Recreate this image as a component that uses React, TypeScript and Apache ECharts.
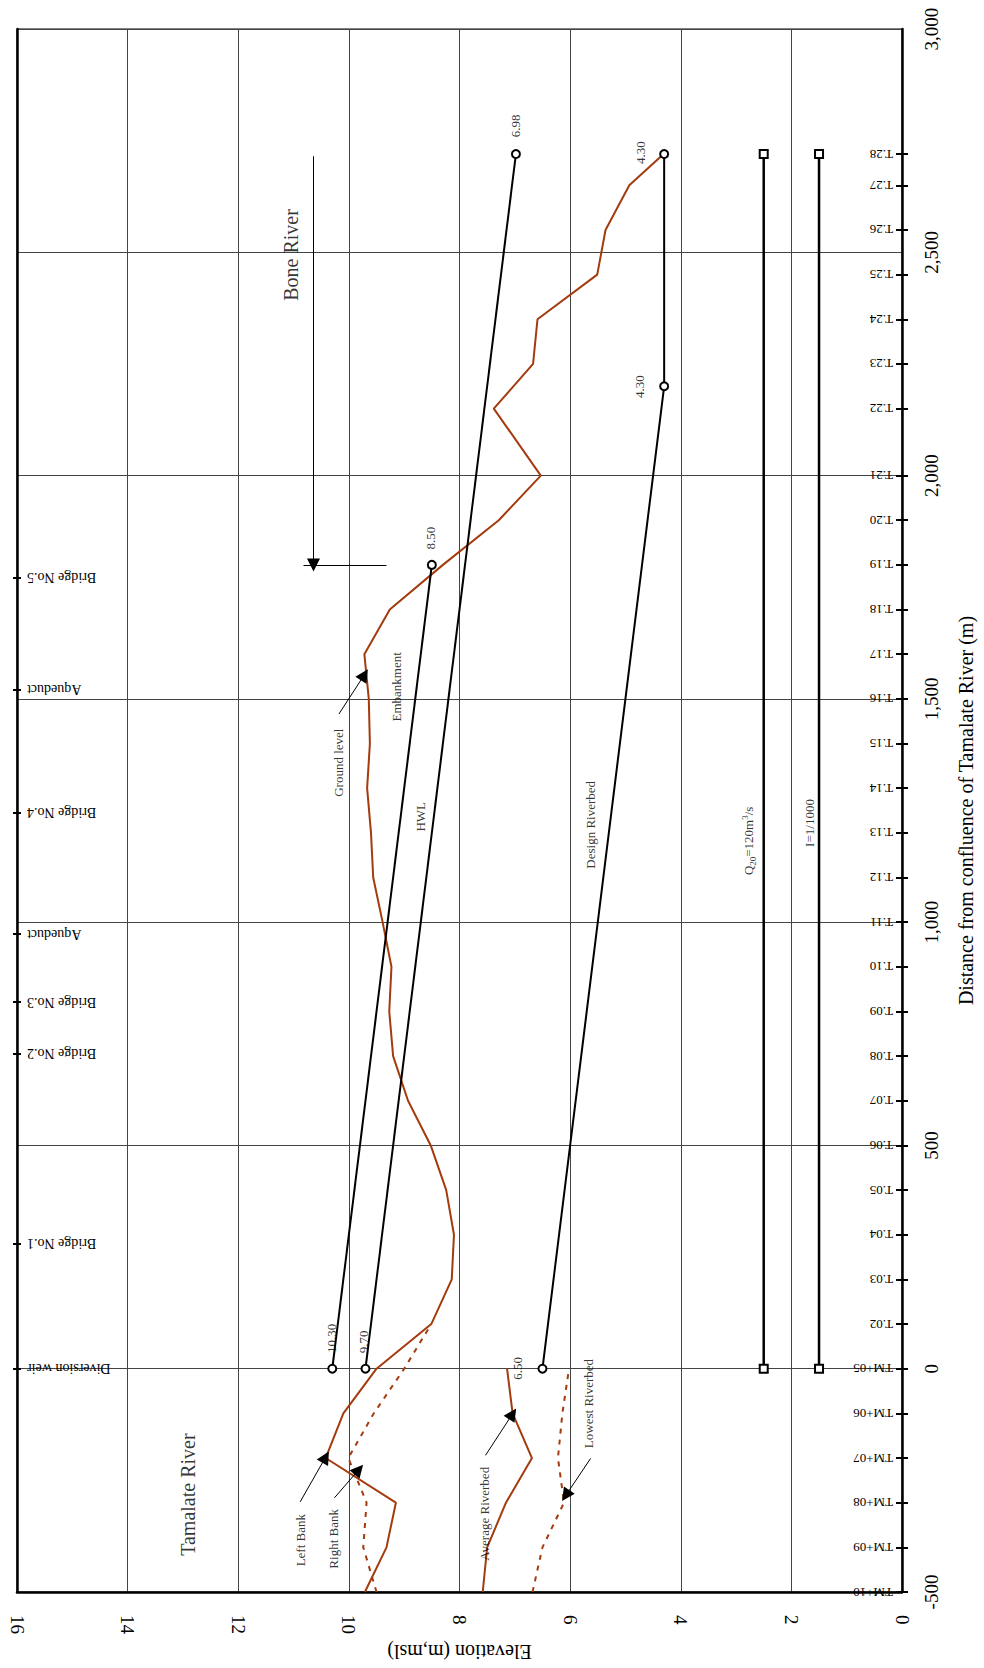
import React, { useEffect, useRef } from 'react';
import * as echarts from 'echarts';

const FONT = '"Liberation Serif", "Times New Roman", Times, serif';
const ORANGE = '#A33B0E';

// Survey stations along the river (distance from confluence, m)
const stationNames = [
  'TM+10', 'TM+09', 'TM+08', 'TM+07', 'TM+06', 'TM+05',
  'T.02', 'T.03', 'T.04', 'T.05', 'T.06', 'T.07', 'T.08', 'T.09', 'T.10', 'T.11',
  'T.12', 'T.13', 'T.14', 'T.15', 'T.16', 'T.17', 'T.18', 'T.19', 'T.20', 'T.21',
  'T.22', 'T.23', 'T.24', 'T.25', 'T.26', 'T.27', 'T.28',
];
const stationDist = [
  -500, -400, -300, -200, -100, 0,
  100, 200, 300, 400, 500, 600, 700, 800, 900, 1000,
  1100, 1200, 1300, 1400, 1500, 1600, 1700, 1800, 1900, 2000,
  2150, 2250, 2350, 2450, 2550, 2650, 2720,
];
// Left bank (Tamalate) continuing as ground level (Bone River)
const groundElev = [
  9.71, 9.32, 9.15, 10.42, 10.10, 9.50,
  8.51, 8.14, 8.10, 8.24, 8.52, 8.93, 9.20, 9.27, 9.23, 9.39,
  9.56, 9.60, 9.67, 9.62, 9.64, 9.72, 9.26, 8.30, 7.29, 6.53,
  7.38, 6.67, 6.59, 5.51, 5.36, 4.93, 4.31,
];

const rightBankDist = [-500, -400, -300, -200, -100, 0, 100];
const rightBankElev = [9.50, 9.74, 9.68, 10.01, 9.55, 9.00, 8.51];

const avgBedDist = [-500, -400, -300, -200, -100, 0];
const avgBedElev = [7.58, 7.50, 7.16, 6.69, 7.04, 7.14];

const lowBedDist = [-500, -400, -300, -200, -100, 0];
const lowBedElev = [6.68, 6.50, 6.11, 6.22, 6.14, 6.02];

const embankmentDist = [0, 1800];
const embankmentElev = [10.30, 8.50];
const hwlDist = [0, 2720];
const hwlElev = [9.70, 6.98];
const designDist = [0, 2200, 2720];
const designElev = [6.50, 4.30, 4.30];
const q20Dist = [0, 2720];
const q20Elev = [2.5, 2.5];
const slopeDist = [0, 2720];
const slopeElev = [1.5, 1.5];

// Structures on the left axis
const bridgeNames = ['Diversion weir', 'Bridge No.1', 'Bridge No.2', 'Bridge No.3', 'Aqueduct', 'Bridge No.4', 'Aqueduct', 'Bridge No.5'];
const bridgeDist = [0, 280, 705, 821, 973, 1245, 1521, 1771];

// Annotation texts
const noteTexts = [
  'Bone River', 'Tamalate River', 'Left Bank', 'Right Bank', 'Average Riverbed', 'Lowest Riverbed',
  'Ground level', 'Embankment', 'HWL', 'Design Riverbed', 'Q{sub|20}=120m{sup|3}/s', 'I=1/1000',
  '10.30', '9.70', '6.50', '8.50', '6.98', '4.30', '4.30',
];
const noteElev = [11.04, 12.90, 10.88, 10.28, 7.54, 5.66, 10.19, 9.14, 8.70, 5.63, 2.77, 1.68, 10.32, 9.74, 6.95, 8.52, 6.99, 4.73, 4.74];
const noteDist = [2494, -282, -384, -381, -325, -78, 1357, 1527, 1236, 1218, 1182, 1222, 68, 60, 1, 1860, 2783, 2723, 2199];
const noteSize = [20, 20, 13, 13, 13, 13, 13, 13, 13, 13, 13, 13, 13, 13, 13, 13, 13, 13, 13];

// Pointer arrows (tail -> head)
const arrowFromElev = [10.88, 10.26, 7.53, 5.63, 10.18, 10.64];
const arrowFromDist = [-298, -289, -194, -201, 1466, 2715];
const arrowToElev = [10.42, 9.82, 7.04, 6.08, 9.72, 10.64];
const arrowToDist = [-198, -226, -101, -284, 1554, 1800];

// Plain marker bar for Bone River
const barFromElev = [10.82];
const barToElev = [9.32];
const barDist = [1800];

const pairs = (xs: number[], ys: number[]) => xs.map((x, i) => [x, ys[i]]);

export default function App() {
  const ref = useRef<HTMLDivElement>(null);

  useEffect(() => {
    if (!ref.current) return;
    const chart = echarts.init(ref.current, null, { renderer: 'svg' });

    const distBase = { type: 'value', min: -500, max: 3000 } as any;
    const blackLine = (name: string, dist: number[], elev: number[], symbol: string) => ({
      name,
      type: 'line',
      data: pairs(elev, dist),
      symbol,
      symbolSize: 8,
      showSymbol: true,
      lineStyle: { color: '#000', width: 2 },
      itemStyle: { color: '#000', borderColor: '#000', borderWidth: 2 },
      z: 4,
      silent: true,
    });

    const option: any = {
      animation: false,
      backgroundColor: '#fff',
      textStyle: { fontFamily: FONT, color: '#000' },
      grid: { left: 17, right: 78, top: 29, bottom: 76, show: true, borderColor: '#000', borderWidth: 1, backgroundColor: 'transparent' },
      xAxis: {
        type: 'value', min: 0, max: 16, interval: 2, inverse: true, position: 'bottom',
        name: 'Elevation (m,msl)', nameLocation: 'middle', nameGap: 50, nameRotate: 180,
        nameTextStyle: { fontFamily: FONT, fontSize: 20, color: '#000' },
        axisLine: { show: true, onZero: false, lineStyle: { color: '#000', width: 2.5 } },
        axisTick: { show: false },
        axisLabel: { rotate: -90, margin: 23, fontFamily: FONT, fontSize: 19, color: '#000' },
        splitLine: { show: true, lineStyle: { color: '#444', width: 1 } },
      },
      yAxis: [
        {
          ...distBase, interval: 500, position: 'right',
          name: 'Distance from confluence of Tamalate River (m)', nameLocation: 'middle', nameGap: 54, nameRotate: 90,
          nameTextStyle: { fontFamily: FONT, fontSize: 20, color: '#000' },
          axisLine: { show: true, onZero: false, lineStyle: { color: '#000', width: 2.5 } },
          axisTick: { show: false },
          axisLabel: { rotate: 90, margin: 20, fontFamily: FONT, fontSize: 19, color: '#000', formatter: (v: number) => v.toLocaleString('en-US') },
          splitLine: { show: true, lineStyle: { color: '#444', width: 1 } },
        },
        {
          ...distBase, position: 'right',
          axisLine: { show: false, onZero: false },
          axisTick: { show: true, inside: true, length: 6, customValues: stationDist, lineStyle: { color: '#000', width: 2 } },
          axisLabel: {
            show: true, inside: true, rotate: 180, margin: 9, customValues: stationDist,
            fontFamily: FONT, fontSize: 13, color: '#000',
            formatter: (v: number) => stationNames[stationDist.indexOf(v)] ?? '',
          },
          splitLine: { show: false },
        },
        {
          ...distBase, position: 'right',
          axisLine: { show: false, onZero: false },
          axisTick: { show: true, inside: false, length: 6, customValues: stationDist, lineStyle: { color: '#000', width: 2 } },
          axisLabel: { show: false },
          splitLine: { show: false },
        },
        {
          ...distBase, position: 'left',
          axisLine: { show: true, onZero: false, lineStyle: { color: '#000', width: 2.5 } },
          axisTick: { show: true, inside: true, length: 4, customValues: bridgeDist, lineStyle: { color: '#000', width: 2 } },
          axisLabel: {
            show: true, inside: true, rotate: 180, margin: 10, customValues: bridgeDist,
            fontFamily: FONT, fontSize: 14, color: '#000',
            formatter: (v: number) => bridgeNames[bridgeDist.indexOf(v)] ?? '',
          },
          splitLine: { show: false },
        },
        {
          ...distBase, position: 'left',
          axisLine: { show: false, onZero: false },
          axisTick: { show: true, inside: false, length: 4, customValues: bridgeDist, lineStyle: { color: '#000', width: 2 } },
          axisLabel: { show: false },
          splitLine: { show: false },
        },
      ],
      series: [
        {
          name: 'Ground level', type: 'line', data: pairs(groundElev, stationDist), symbol: 'none',
          lineStyle: { color: ORANGE, width: 2 }, z: 3, silent: true,
        },
        {
          name: 'Right Bank', type: 'line', data: pairs(rightBankElev, rightBankDist), symbol: 'none',
          lineStyle: { color: ORANGE, width: 2, type: [5, 6] }, z: 3, silent: true,
        },
        {
          name: 'Average Riverbed', type: 'line', data: pairs(avgBedElev, avgBedDist), symbol: 'none',
          lineStyle: { color: ORANGE, width: 2 }, z: 3, silent: true,
        },
        {
          name: 'Lowest Riverbed', type: 'line', data: pairs(lowBedElev, lowBedDist), symbol: 'none',
          lineStyle: { color: ORANGE, width: 2, type: [5, 6] }, z: 3, silent: true,
        },
        blackLine('Embankment', embankmentDist, embankmentElev, 'emptyCircle'),
        blackLine('HWL', hwlDist, hwlElev, 'emptyCircle'),
        blackLine('Design Riverbed', designDist, designElev, 'emptyCircle'),
        { ...blackLine('Q20', q20Dist, q20Elev, 'emptyRect'), lineStyle: { color: '#000', width: 2.5 } },
        { ...blackLine('I', slopeDist, slopeElev, 'emptyRect'), lineStyle: { color: '#000', width: 2.5 } },
        {
          name: 'Arrows', type: 'lines', coordinateSystem: 'cartesian2d',
          symbol: ['none', 'triangle'], symbolSize: [1, 13],
          lineStyle: { color: '#000', width: 1, opacity: 1 },
          data: arrowFromElev.map((e, i) => ({ coords: [[e, arrowFromDist[i]], [arrowToElev[i], arrowToDist[i]]] })),
          z: 5, silent: true,
        },
        {
          name: 'Bars', type: 'lines', coordinateSystem: 'cartesian2d',
          symbol: ['none', 'none'],
          lineStyle: { color: '#000', width: 1, opacity: 1 },
          data: barFromElev.map((e, i) => ({ coords: [[e, barDist[i]], [barToElev[i], barDist[i]]] })),
          z: 5, silent: true,
        },
        {
          name: 'Notes', type: 'scatter', symbolSize: 1, itemStyle: { color: 'transparent' },
          label: {
            show: true, position: 'inside', rotate: 90, align: 'center', verticalAlign: 'middle',
            color: '#000', fontFamily: FONT,
            rich: {
              sub: { fontSize: 9, fontFamily: FONT, color: '#000', verticalAlign: 'bottom', lineHeight: 9 },
              sup: { fontSize: 9, fontFamily: FONT, color: '#000', verticalAlign: 'top', lineHeight: 9 },
            },
          },
          data: noteTexts.map((t, i) => ({
            value: [noteElev[i], noteDist[i]],
            label: { formatter: t, fontSize: noteSize[i], lineHeight: noteSize[i] + 4 },
          })),
          z: 6, silent: true,
        },
      ],
    };

    chart.setOption(option);
    return () => chart.dispose();
  }, []);

  return (
    <div
      ref={ref}
      style={{ position: 'fixed', left: 0, top: 0, width: 984, height: 1668, background: '#fff' }}
    />
  );
}
